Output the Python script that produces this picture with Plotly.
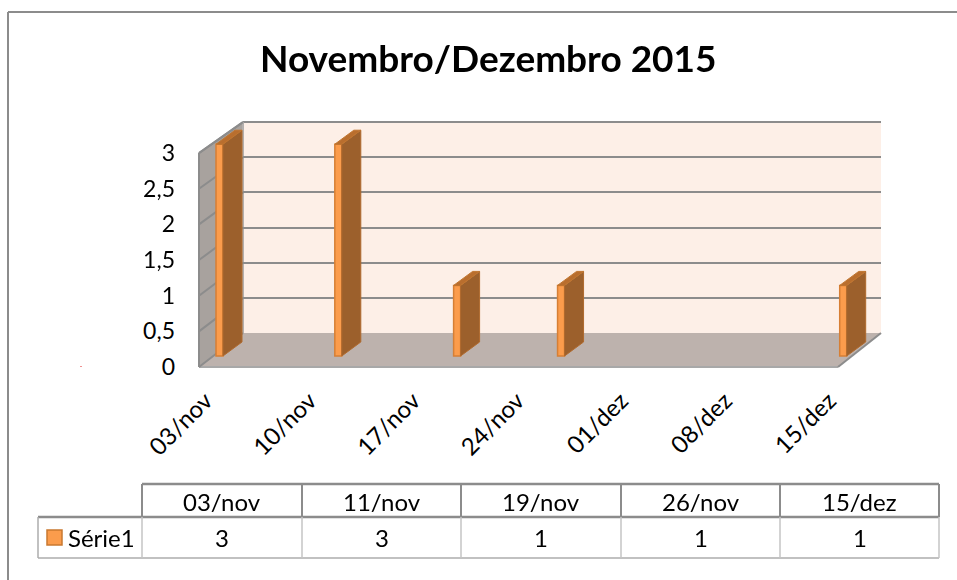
import pandas as pd
import plotly.graph_objects as go

# ---- data ----
title_text = "Novembro/Dezembro 2015"
series_name = "Série1"
dates = ["2015-11-03", "2015-11-11", "2015-11-19", "2015-11-26", "2015-12-15"]
date_labels = ["03/nov", "11/nov", "19/nov", "26/nov", "15/dez"]
values = [3, 3, 1, 1, 1]
axis_dates = ["2015-11-03", "2015-11-10", "2015-11-17", "2015-11-24",
              "2015-12-01", "2015-12-08", "2015-12-15"]
axis_labels = ["03/nov", "10/nov", "17/nov", "24/nov", "01/dez", "08/dez", "15/dez"]
y_ticks = [0, 0.5, 1, 1.5, 2, 2.5, 3]

# ---- page geometry helpers ----
W, H = 957, 580
FONT = "Lato"
px = lambda v: v / W
py = lambda v: 1 - v / H

PX_DAY = 14.85
UNIT = 70.6
day0 = pd.Timestamp(dates[0])
X0_PX = 219.5
xrange_main = [day0 + pd.Timedelta(days=(199 - X0_PX) / PX_DAY),
               day0 + pd.Timedelta(days=(881 - X0_PX) / PX_DAY)]

BAR_DAYS = 0.47
DEPTH_DAYS = 1.28
DEPTH_VAL = 14 / UNIT


def poly(points, fill, line=None, width=0, layer="below"):
    path = "M " + " L ".join(f"{px(a)},{py(b)}" for a, b in points) + " Z"
    return dict(type="path", xref="paper", yref="paper", path=path, fillcolor=fill,
                line=dict(color=line or fill, width=width), layer=layer)


def seg(x0, y0, x1, y1, color, width=2, layer="below"):
    return dict(type="line", xref="paper", yref="paper", x0=px(x0), y0=py(y0), x1=px(x1), y1=py(y1),
                line=dict(color=color, width=width), layer=layer)


def label(text, x, y, size=24):
    return dict(text=text, x=px(x), y=py(y), xref="paper", yref="paper", xanchor="center", yanchor="middle",
                showarrow=False, font=dict(family=FONT, size=size, color="black"))


GREY = "#8c8c8c"
shapes = [
    seg(8, 12, 957, 12, GREY), seg(8, 12, 8, 580, GREY),
    poly([(243, 122), (881, 122), (881, 333), (243, 333)], "#fdefe7"),
    poly([(199, 367), (838, 367), (881, 333), (243, 333)], "#bdb2ad"),
    poly([(199, 153), (243, 122), (243, 333), (199, 367)], "#a8a29e"),
    seg(199, 153, 243, 122, GREY), seg(243, 122, 881, 122, GREY),
    seg(243, 122, 243, 333, "#b4b0ae"), seg(199, 153, 199, 367, GREY),
    seg(199, 367, 838, 367, "#a8a8a8"), seg(838, 367, 881, 333, GREY),
    seg(80.5, 366.5, 81.5, 366.5, "#e02020", 1),
]
for t in y_ticks:
    shapes.append(seg(199, 367 - 71.3 * t, 243, 333 - 70.3 * t, GREY))

# data table rules
cols = [142, 302, 461, 621, 780, 939]
TOP, MID, BOT = 484, 517, 558
SER_L = 38
shapes += [seg(cols[0], TOP, cols[-1], TOP, GREY, 2.5, "above"),
           seg(SER_L, MID, cols[-1], MID, GREY, 2.5, "above"),
           seg(SER_L, BOT, cols[-1], BOT, "#adadad", 1.5, "above"),
           seg(SER_L, MID, SER_L, BOT, "#adadad", 1.5, "above")]
for c in cols:
    shapes.append(seg(c, TOP, c, MID, GREY, 2, "above"))
    shapes.append(seg(c, MID, c, BOT, "#c4c4c4", 1.5, "above"))
shapes.append(poly([(47, 530), (62, 530), (62, 545), (47, 545)], "#fb9c4c", "#c9782f", 1.5, "above"))

# table and title text
annotations = [label(f"<b>{title_text}</b>", 488, 58, 37), label(series_name, 101, 537)]
for i, (lab, val) in enumerate(zip(date_labels, values)):
    cx = (cols[i] + cols[i + 1]) / 2
    annotations.append(label(lab, cx, 501))
    annotations.append(label(str(val), cx, 537))

# depth polygons built from the data
ts = pd.to_datetime(dates)
half = pd.Timedelta(days=BAR_DAYS / 2)
dep = pd.Timedelta(days=DEPTH_DAYS)
side_x, side_y, top_x, top_y = [], [], [], []
for d, v in zip(ts, values):
    r = d + half
    l = d - half
    side_x += [r, r + dep, r + dep, r, r, None]
    side_y += [0, DEPTH_VAL, v + DEPTH_VAL, v, 0, None]
    top_x += [l, r, r + dep, l + dep, l, None]
    top_y += [v, v, v + DEPTH_VAL, v + DEPTH_VAL, v, None]

fig = go.Figure()
# back-wall grid subplot (first, so it lies under the bars)
fig.add_trace(go.Scatter(x=dates, y=values, mode="markers", opacity=0, hoverinfo="skip",
                         showlegend=False, xaxis="x", yaxis="y"))
fig.add_trace(go.Bar(x=dates, y=values, width=BAR_DAYS * 86400000, name=series_name,
                     marker=dict(color="#fb9c4c", line=dict(color="#d67f35", width=1.5)),
                     showlegend=False, xaxis="x2", yaxis="y2"))
fig.add_trace(go.Scatter(x=side_x, y=side_y, mode="lines", fill="toself", fillcolor="#9c602c",
                         line=dict(color="#b06a2e", width=1), hoverinfo="skip", showlegend=False,
                         xaxis="x2", yaxis="y2"))
fig.add_trace(go.Scatter(x=top_x, y=top_y, mode="lines", fill="toself", fillcolor="#b96e2e",
                         line=dict(color="#c0752f", width=1), hoverinfo="skip", showlegend=False,
                         xaxis="x2", yaxis="y2"))
fig.add_trace(go.Scatter(x=dates, y=values, mode="markers", opacity=0, hoverinfo="skip",
                         showlegend=False, xaxis="x2", yaxis="y3"))

fig.update_layout(
    width=W, height=H, margin=dict(l=0, r=0, t=0, b=0, pad=0), autosize=False,
    paper_bgcolor="white", plot_bgcolor="rgba(0,0,0,0)", separators=", ",
    font=dict(family=FONT, size=23, color="black"), showlegend=False,
    shapes=shapes, annotations=annotations,
    xaxis=dict(domain=[px(243), px(881)], showticklabels=False, ticks="", showgrid=False, zeroline=False,
               showline=False, type="date", anchor="y", automargin=False),
    yaxis=dict(domain=[py(333), py(122)], range=[0, 3], tickvals=y_ticks, showticklabels=False, ticks="",
               showgrid=True, gridcolor=GREY, gridwidth=2, zeroline=False, showline=False, anchor="x",
               automargin=False),
    xaxis2=dict(domain=[px(199), px(881)], range=xrange_main, type="date", tickvals=axis_dates,
                ticktext=axis_labels, tickangle=-45, showgrid=False, zeroline=False, showline=False,
                ticks="", anchor="free", position=py(381), automargin=False, ticklabelshift=-14,
                tickfont=dict(family=FONT, size=24, color="black")),
    yaxis2=dict(domain=[py(367), py(122)], range=[-11 / UNIT, (356 - 122) / UNIT], visible=False,
                anchor="x2", fixedrange=True, automargin=False),
    # an overlaying axis shares the domain of y2 (367 up to 122 px), so its range is set in that frame
    yaxis3=dict(range=[0, (367 - 122) / 71.3], tickvals=y_ticks, anchor="free",
                position=px(175), overlaying="y2", side="left", showgrid=False, zeroline=False,
                showline=False, ticks="", automargin=False, tickfont=dict(family=FONT, size=23, color="black")),
)

fig.write_html("out.html", post_script="document.body.style.margin='0';",
               config=dict(displayModeBar=False))
